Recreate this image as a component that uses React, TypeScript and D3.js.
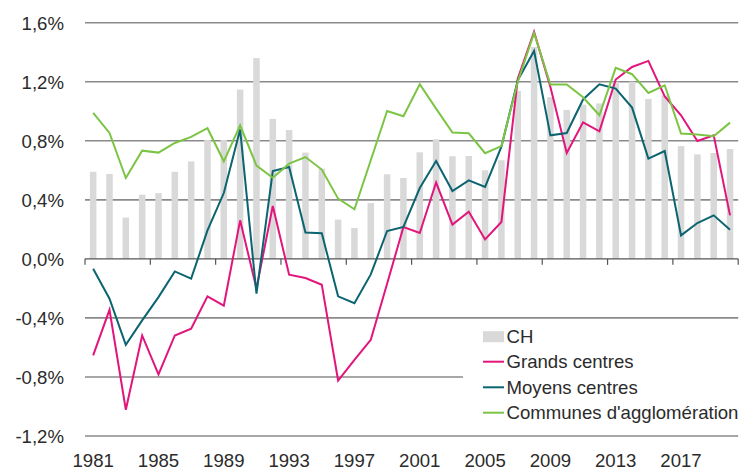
import React from "react";
import * as d3 from "d3";

const years: number[] = d3.range(1981, 2021);
const yTicks: number[] = [-1.2, -0.8, -0.4, 0, 0.4, 0.8, 1.2, 1.6];
const xLabelYears: number[] = [1981, 1985, 1989, 1993, 1997, 2001, 2005, 2009, 2013, 2017];

const ch: number[] = [
  0.59, 0.575, 0.28, 0.435, 0.445, 0.59, 0.66, 0.805, 0.805, 1.147,
  1.36, 0.948, 0.873, 0.72, 0.611, 0.266, 0.209, 0.378, 0.573, 0.548,
  0.722, 0.81, 0.695, 0.697, 0.6, 0.668, 1.137, 1.436, 1.096, 1.009,
  1.045, 1.053, 1.2, 1.2, 1.083, 1.107, 0.764, 0.708, 0.717, 0.744,
];
const grands: number[] = [
  -0.654, -0.345, -1.022, -0.519, -0.783, -0.519, -0.473, -0.254, -0.317, 0.261,
  -0.2, 0.358, -0.107, -0.13, -0.175, -0.824, -0.684, -0.548, -0.168, 0.216,
  0.175, 0.517, 0.232, 0.32, 0.132, 0.25, 1.22, 1.538, 1.165, 0.717,
  0.925, 0.864, 1.215, 1.3, 1.341, 1.1, 0.973, 0.799, 0.837, 0.295,
];
const moyens: number[] = [
  -0.067, -0.27, -0.582, -0.417, -0.259, -0.085, -0.134, 0.193, 0.446, 0.876,
  -0.236, 0.595, 0.622, 0.178, 0.173, -0.254, -0.3, -0.105, 0.189, 0.216,
  0.48, 0.663, 0.46, 0.532, 0.487, 0.76, 1.21, 1.409, 0.837, 0.853,
  1.08, 1.183, 1.154, 1.025, 0.679, 0.731, 0.159, 0.243, 0.295, 0.198,
];
const communes: number[] = [
  0.989, 0.853, 0.548, 0.733, 0.72, 0.785, 0.826, 0.885, 0.661, 0.905,
  0.632, 0.55, 0.645, 0.69, 0.605, 0.408, 0.336, 0.668, 1.002, 0.966,
  1.183, 1.018, 0.856, 0.851, 0.716, 0.764, 1.199, 1.531, 1.181, 1.181,
  1.095, 0.973, 1.294, 1.251, 1.124, 1.176, 0.849, 0.842, 0.831, 0.923,
];

const seriesNames: string[] = ["CH", "Grands centres", "Moyens centres", "Communes d'agglomération"];
const colors = { bar: "#d9d9d9", grands: "#e2157c", moyens: "#0b6470", communes: "#7cc444", grid: "#8a8a8a", text: "#2b2b2b" };

const W = 743;
const H = 470;
const font = "'Liberation Sans', Arial, Helvetica, sans-serif";
const fs = 18.6;

export default function App() {
  const x = d3.scaleBand<number>().domain(years).range([85, 738.2]).paddingInner(0.6).paddingOuter(0.3);
  const y = d3.scaleLinear().domain([-1.2, 1.6]).range([436, 22.7]);
  const cx = (yr: number) => (x(yr) as number) + x.bandwidth() / 2;
  const step = x.step();
  const line = d3.line<number>().x((_, i) => cx(years[i])).y((v) => y(v));

  const tickXs: number[] = d3.range(0, years.length + 1, 4).map((k) => 85 + k * step);

  const lines = [
    { data: grands, color: colors.grands },
    { data: moyens, color: colors.moyens },
    { data: communes, color: colors.communes },
  ];

  const legendY = [336.7, 361.7, 387.3, 412.7];

  return (
    <svg width={W} height={H} style={{ position: "absolute", left: 0, top: 0 }} fontFamily={font}>
      <rect width={W} height={H} fill="#fff" />
      {yTicks.filter((t) => t !== 0).map((t) => (
        <line key={t} x1={85} x2={738.2} y1={y(t)} y2={y(t)} stroke={colors.grid} strokeWidth={1.6} />
      ))}
      {years.map((yr, i) => (
        <rect key={yr} x={x(yr)} width={x.bandwidth()} y={y(Math.max(0, ch[i]))} height={Math.abs(y(ch[i]) - y(0))} fill={colors.bar} />
      ))}
      <line x1={85} x2={738.2} y1={y(0)} y2={y(0)} stroke="#555" strokeWidth={1.2} />
      {tickXs.map((tx) => (
        <line key={tx} x1={tx} x2={tx} y1={y(0)} y2={y(0) + 6} stroke="#555" strokeWidth={1.2} />
      ))}
      {lines.map((l, k) => (
        <path key={k} d={line(l.data) as string} fill="none" stroke={l.color} strokeWidth={2} strokeLinejoin="miter" />
      ))}
      {yTicks.map((t) => (
        <text key={t} x={64} y={y(t) + 7} textAnchor="end" fontSize={fs} fill={colors.text}>
          {d3.format(".1f")(t).replace(".", ",").replace("−", "-") + "%"}
        </text>
      ))}
      {xLabelYears.map((yr) => (
        <text key={yr} x={cx(yr)} y={467} textAnchor="middle" fontSize={fs} fill={colors.text}>
          {yr}
        </text>
      ))}
      <rect x={463} y={323} width={280} height={104} fill="#fff" />
      <rect x={483} y={legendY[0] - 5.5} width={21} height={11} fill={colors.bar} />
      <line x1={483} x2={504} y1={legendY[1]} y2={legendY[1]} stroke={colors.grands} strokeWidth={2} />
      <line x1={483} x2={504} y1={legendY[2]} y2={legendY[2]} stroke={colors.moyens} strokeWidth={2} />
      <line x1={483} x2={504} y1={legendY[3]} y2={legendY[3]} stroke={colors.communes} strokeWidth={2} />
      {seriesNames.map((n, i) => (
        <text key={n} x={506.5} y={legendY[i] + 6.5} fontSize={fs} fill={colors.text}>
          {n}
        </text>
      ))}
    </svg>
  );
}
